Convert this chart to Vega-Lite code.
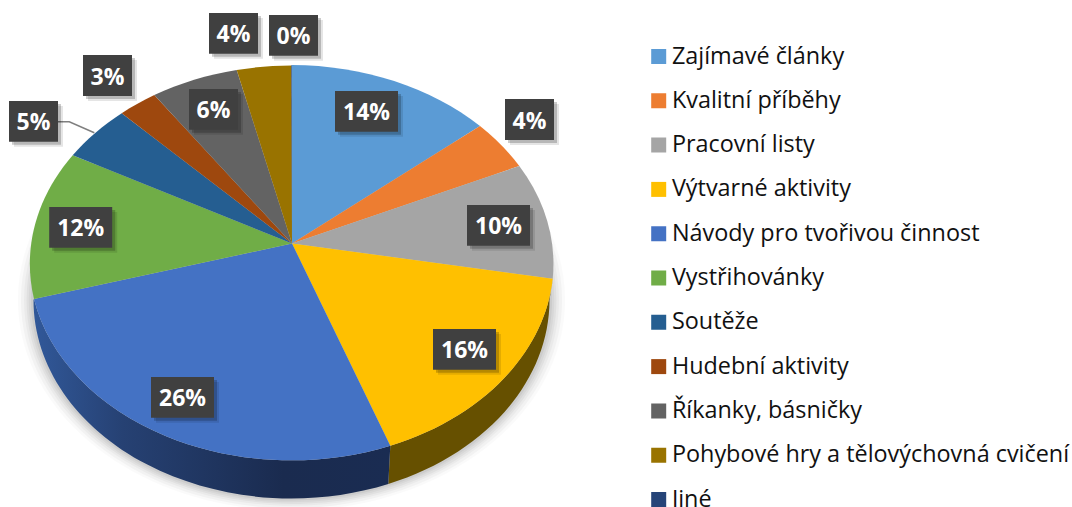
{
"$schema":"https://vega.github.io/schema/vega-lite/v6.json",
"width":1072,"height":507,"padding":0,"autosize":{"type":"none"},
"background":"white",
"config":{"view":{"stroke":null}},
"data":{"values":[
{"name":"Zajímavé články","value":14},
{"name":"Kvalitní příběhy","value":4},
{"name":"Pracovní listy","value":10},
{"name":"Výtvarné aktivity","value":16},
{"name":"Návody pro tvořivou činnost","value":26},
{"name":"Vystřihovánky","value":12},
{"name":"Soutěže","value":5},
{"name":"Hudební aktivity","value":3},
{"name":"Říkanky, básničky","value":6},
{"name":"Pohybové hry a tělovýchovná cvičení","value":4},
{"name":"Jiné","value":0}
]},
"transform":[
  {"calculate":"{'Zajímavé články':366.5,'Kvalitní příběhy':529.5,'Pracovní listy':498.5,'Výtvarné aktivity':464.5,'Návody pro tvořivou činnost':182.5,'Vystřihovánky':80.7,'Soutěže':33.5,'Hudební aktivity':107.5,'Říkanky, básničky':213.5,'Pohybové hry a tělovýchovná cvičení':233.5,'Jiné':293.5}[datum.name]","as":"lx"},
  {"calculate":"{'Zajímavé články':111.3,'Kvalitní příběhy':119.5,'Pracovní listy':225.3,'Výtvarné aktivity':349.3,'Návody pro tvořivou činnost':397.3,'Vystřihovánky':227.3,'Soutěže':121.3,'Hudební aktivity':75.5,'Říkanky, básničky':109.3,'Pohybové hry a tělovýchovná cvičení':33.3,'Jiné':35.3}[datum.name]","as":"ly"},
  {"calculate":"datum.value+'%'","as":"pct"},
  {"calculate":"datum.value>=10?'wide':'narrow'","as":"boxWidth"}
],
"encoding":{
"x":{"field":"lx","type":"quantitative","scale":{"domain":[0,1072],"range":[0,1072]},"axis":null},
"y":{"field":"ly","type":"quantitative","scale":{"domain":[0,507],"range":[0,507]},"axis":null}
},
"layer":[
{"transform":[{"filter":"datum.value==26"}],
 "mark":{"type":"point","shape":"M-258,0A258,198.5 0 1 1 258,0A258,198.5 0 1 1 -258,0Z","size":4.5,"filled":true,"fill":"#000000","stroke":null,"opacity":0.02},
 "encoding":{"x":{"datum":291.5},"y":{"datum":300}}},
{"transform":[{"filter":"datum.value==26"}],
 "mark":{"type":"point","shape":"M-258,0A258,198.5 0 1 1 258,0A258,198.5 0 1 1 -258,0Z","size":4.4,"filled":true,"fill":"#000000","stroke":null,"opacity":0.03},
 "encoding":{"x":{"datum":291.5},"y":{"datum":300}}},
{"transform":[{"filter":"datum.value==26"}],
 "mark":{"type":"point","shape":"M-258,0A258,198.5 0 1 1 258,0A258,198.5 0 1 1 -258,0Z","size":4.3,"filled":true,"fill":"#000000","stroke":null,"opacity":0.03},
 "encoding":{"x":{"datum":291.5},"y":{"datum":300}}},
{"transform":[{"filter":"datum.value==26"}],
 "mark":{"type":"point","shape":"M-258,0A258,198.5 0 1 1 258,0A258,198.5 0 1 1 -258,0Z","size":4.22,"filled":true,"fill":"#000000","stroke":null,"opacity":0.04},
 "encoding":{"x":{"datum":291.5},"y":{"datum":300}}},
{"transform":[{"filter":"datum.value==26"}],
 "mark":{"type":"point","shape":"M-258,0A258,198.5 0 1 1 258,0A258,198.5 0 1 1 -258,0Z","size":4.15,"filled":true,"fill":"#000000","stroke":null,"opacity":0.04},
 "encoding":{"x":{"datum":291.5},"y":{"datum":300}}},
{"transform":[{"filter":"datum.value==26"}],
 "mark":{"type":"point","shape":"M-258,0A258,198.5 0 1 1 258,0A258,198.5 0 1 1 -258,0Z","size":4.08,"filled":true,"fill":"#000000","stroke":null,"opacity":0.05},
 "encoding":{"x":{"datum":291.5},"y":{"datum":300}}},
{"transform":[{"filter":"datum.value==16"}],
 "mark":{"type":"point","shape":"M260.7,35.2A262,198 0 0 1 98.3,202.2L96.3,240.5A258,198.5 0 0 0 257.5,56.5Z","size":4,"filled":true,"fill":"#665000","stroke":null,"opacity":1},
 "encoding":{"x":{"datum":292},"y":{"datum":243.5}}},
{"transform":[{"filter":"datum.value==26"}],
 "mark":{"type":"point","shape":"M98.3,202.2A262,198 0 0 1 -258,55.5L-258.5,56.5A258,198.5 0 0 0 96.3,240.5Z","size":4,"filled":true,"stroke":null,"opacity":1,
 "fill":{"gradient":"linear","x1":0,"y1":0,"x2":1,"y2":0,"stops":[{"offset":0,"color":"#315899"},{"offset":0.25,"color":"#264173"},{"offset":0.7,"color":"#1a2b4f"},{"offset":1,"color":"#1a2c52"}]}},
 "encoding":{"x":{"datum":292},"y":{"datum":243.5}}},
{"mark":{"type":"point","size":4,"filled":true,"opacity":1,"strokeWidth":0},
 "encoding":{
 "x":{"datum":292},"y":{"datum":243.5},
 "color":{"field":"name","type":"nominal","sort":null,
  "scale":{"domain":["Zajímavé články","Kvalitní příběhy","Pracovní listy","Výtvarné aktivity","Návody pro tvořivou činnost","Vystřihovánky","Soutěže","Hudební aktivity","Říkanky, básničky","Pohybové hry a tělovýchovná cvičení","Jiné"],
  "range":["#5B9BD5","#ED7D31","#A5A5A5","#FFC000","#4472C4","#70AD47","#255E91","#9E480E","#636363","#997300","#264478"]},
  "legend":{"title":null,"orient":"none","legendX":647,"legendY":41,"padding":0,"symbolType":"square","symbolSize":225,"symbolStrokeWidth":0,"symbolOpacity":1,"labelFont":"Open Sans","labelFontSize":23.4,"labelColor":"#111111","labelOffset":1.5,"rowPadding":13.3,"labelLimit":500,"clipHeight":31}},
 "shape":{"field":"name","type":"nominal","legend":null,
  "scale":{"domain":["Zajímavé články","Kvalitní příběhy","Pracovní listy","Výtvarné aktivity","Návody pro tvořivou činnost","Vystřihovánky","Soutěže","Hudební aktivity","Říkanky, básničky","Pohybové hry a tělovýchovná cvičení","Jiné"],
  "range":[
  "M0,0L0,-178.5A262,198 0 0 1 188,-117.5Z",
  "M0,0L188,-117.5A262,198 0 0 1 227.3,-77.5Z",
  "M0,0L227.3,-77.5A262,198 0 0 1 260.7,35.2Z",
  "M0,0L260.7,35.2A262,198 0 0 1 98.3,202.2Z",
  "M0,0L98.3,202.2A262,198 0 0 1 -258,55.5Z",
  "M0,0L-258,55.5A262,198 0 0 1 -219.3,-88.2Z",
  "M0,0L-219.3,-88.2A262,198 0 0 1 -170.3,-130.2Z",
  "M0,0L-170.3,-130.2A262,198 0 0 1 -137.7,-148.5Z",
  "M0,0L-137.7,-148.5A262,198 0 0 1 -55.3,-173.5Z",
  "M0,0L-55.3,-173.5A262,198 0 0 1 -0.7,-178Z",
  "M0,0L-0.7,-178L0,-178.5Z"]}}
 }},
{"transform":[{"filter":"datum.name=='Soutěže'"}],
  "mark":{"type":"point","shape":"M24.5,0.4H35.8L60.8,11.4","size":4,"filled":false,"stroke":"#7f7f7f","strokeWidth":1.5,"opacity":1}},
{"mark":{"type":"point","size":4,"filled":true,"fill":"#000000","stroke":null,"opacity":0.1,"xOffset":5,"yOffset":5},
  "encoding":{"shape":{"field":"boxWidth","type":"nominal","legend":null,"scale":{"domain":["wide","narrow"],"range":["M-31.5,-20.4H31.5V20.4H-31.5Z","M-24.5,-20.4H24.5V20.4H-24.5Z"]}}}},
{"mark":{"type":"point","size":4,"filled":true,"fill":"#000000","stroke":null,"opacity":0.2,"xOffset":3,"yOffset":3},
  "encoding":{"shape":{"field":"boxWidth","type":"nominal","legend":null,"scale":{"domain":["wide","narrow"],"range":["M-31.5,-20.4H31.5V20.4H-31.5Z","M-24.5,-20.4H24.5V20.4H-24.5Z"]}}}},
{"mark":{"type":"point","size":4,"filled":true,"fill":"#404040","stroke":null,"opacity":1},
  "encoding":{"shape":{"field":"boxWidth","type":"nominal","legend":null,"scale":{"domain":["wide","narrow"],"range":["M-31.5,-20.4H31.5V20.4H-31.5Z","M-24.5,-20.4H24.5V20.4H-24.5Z"]}}}},
{"mark":{"type":"text","font":"Open Sans","fontWeight":"bold","fontSize":23,"color":"#ffffff","align":"center","baseline":"middle","dy":2},
  "encoding":{"text":{"field":"pct","type":"nominal"}}}
],
"resolve":{"scale":{"shape":"independent"}}
}
